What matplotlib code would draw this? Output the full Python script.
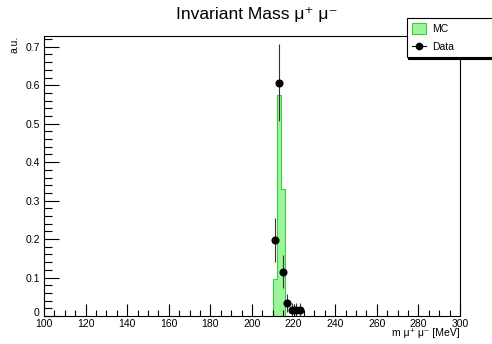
import numpy as np
import matplotlib
matplotlib.use('Agg')
import matplotlib.pyplot as plt
import matplotlib.transforms as mtransforms
from matplotlib.ticker import MultipleLocator
from matplotlib.patches import Patch
from matplotlib.lines import Line2D

plt.rcParams['font.family'] = ['Liberation Sans', 'DejaVu Sans']

# MC histogram (normalised), 2 MeV bins
mc_edges = [210, 212, 214, 216]
mc_values = [0.096, 0.575, 0.329]

# data points (bin centres), normalised counts and errors
data_x = [211, 213, 215, 217, 219, 221, 223]
data_y = [0.197, 0.607, 0.115, 0.033, 0.0164, 0.0164, 0.0164]
data_err = [0.057, 0.100, 0.043, 0.023, 0.0164, 0.0164, 0.0164]

fill_col = '#9cf59c'
edge_col = '#3fcc3f'

fig = plt.figure(figsize=(4.92, 3.44), dpi=100)
ax = fig.add_axes([44 / 492, 1 - 316 / 344, 416 / 492, 280 / 344])

ax.stairs(mc_values, mc_edges, fill=True, facecolor=fill_col, edgecolor='none')
ax.stairs(mc_values, mc_edges, color=edge_col, linewidth=0.8)
ax.errorbar(data_x, data_y, yerr=data_err, fmt='o', color='black', ecolor='#333333',
            markersize=4.8, elinewidth=0.8, capsize=0)

ax.set_xlim(100, 300)
ax.set_ylim(0, 0.728)
ax.xaxis.set_major_locator(MultipleLocator(20))
ax.xaxis.set_minor_locator(MultipleLocator(5))
ax.yaxis.set_minor_locator(MultipleLocator(0.02))
ax.tick_params(which='both', direction='in', top=False, right=False, labelsize=7.5, width=0.8)
ax.tick_params(axis='y', which='major', length=11, pad=3)
ax.tick_params(axis='y', which='minor', length=5.5)
ax.tick_params(axis='x', which='major', length=9, pad=2)
ax.tick_params(axis='x', which='minor', length=4.5)
ax.set_yticks(np.arange(0, 0.71, 0.1))
ax.set_yticklabels(['0', '0.1', '0.2', '0.3', '0.4', '0.5', '0.6', '0.7'])
for s in ax.spines.values():
    s.set_linewidth(0.8)

# lift the "0" label a little, as ROOT does
zero_lbl = ax.get_yticklabels()[0]
zero_lbl.set_transform(zero_lbl.get_transform() + mtransforms.ScaledTranslation(0, 3 / 72, fig.dpi_scale_trans))

fig.text(257 / 492, 1 - 14 / 344, 'Invariant Mass μ⁺ μ⁻', ha='center', va='center', fontsize=12.5)
fig.text(14 / 492, 1 - 36 / 344, 'a.u.', rotation=90, ha='center', va='top', fontsize=7.5)
fig.text(460 / 492, 1 - 333 / 344, 'm μ⁺ μ⁻ [MeV]', ha='right', va='center', fontsize=7.5)

handles = [Patch(facecolor=fill_col, edgecolor=edge_col, linewidth=0.8),
           Line2D([], [], color='black', marker='o', markersize=4.5, linewidth=0.8)]
leg = fig.legend(handles, ['MC', 'Data'], loc='upper left',
                 bbox_to_anchor=(407 / 492, 1 - 58 / 344, 100 / 492, 40 / 344),
                 mode='expand', fancybox=False, edgecolor='black', framealpha=1,
                 shadow={'color': 'black', 'ox': 1, 'oy': -1, 'alpha': 1},
                 fontsize=7.5, borderpad=0.45, labelspacing=0.7, handlelength=1.4,
                 handleheight=1.3, handletextpad=0.6, borderaxespad=0)
leg.get_frame().set_linewidth(0.8)

fig.savefig('out.png', dpi=100)
